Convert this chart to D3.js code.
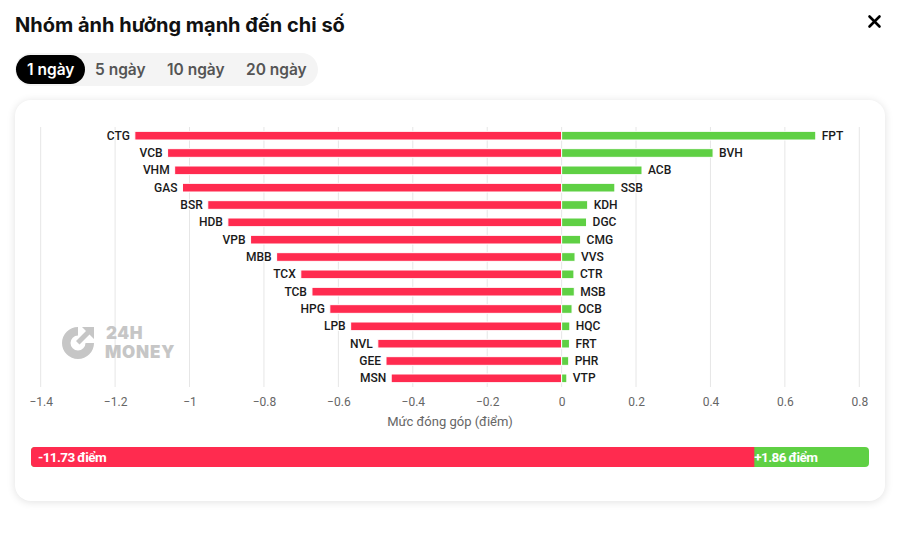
<!DOCTYPE html>
<html>
<head>
<meta charset="utf-8">
<script src="https://cdn.jsdelivr.net/npm/d3@7"></script>
<style>
  body { margin: 0; background: #fff; font-family: Inter, Roboto, sans-serif; }
  #page { position: relative; width: 898px; height: 546px; overflow: hidden; }
  .title { position: absolute; left: 15px; top: 13px; font-size: 20px; font-weight: 700; color: #111; }
  .tabs { position: absolute; left: 15px; top: 53px; height: 33px; width: 303px; background: #f4f4f4; border-radius: 17px; }
  .tab { position: absolute; top: 2px; height: 29px; line-height: 29px; font-size: 15.5px; font-weight: 600; color: #555; }
  .tab.active { background: #000; color: #fff; border-radius: 15px; padding: 0 11px; left: 1px; }
  .card { position: absolute; left: 15px; top: 100px; width: 870px; height: 401px; background: #fff; border-radius: 16px;
          box-shadow: 0 1px 8px rgba(0,0,0,0.12); }
  svg { position: absolute; left: 0; top: 0; }
</style>
</head>
<body>
<div id="page">
  <div class="title">Nhóm ảnh hưởng mạnh đến chi số</div>
  <div class="tabs">
    <div class="tab active">1 ngày</div>
    <div class="tab" style="left:80px">5 ngày</div>
    <div class="tab" style="left:152px">10 ngày</div>
    <div class="tab" style="left:231px">20 ngày</div>
  </div>
  <div class="card"></div>
  <div id="chart"></div>
</div>
<script>
// Data
const negNames = ["CTG", "VCB", "VHM", "GAS", "BSR", "HDB", "VPB", "MBB", "TCX", "TCB", "HPG", "LPB", "NVL", "GEE", "MSN"];
const negValues = [-1.147, -1.059, -1.040, -1.019, -0.951, -0.897, -0.836, -0.766, -0.701, -0.671, -0.623, -0.567, -0.494, -0.472, -0.458];
const posNames = ["FPT", "BVH", "ACB", "SSB", "KDH", "DGC", "CMG", "VVS", "CTR", "MSB", "OCB", "HQC", "FRT", "PHR", "VTP"];
const posValues = [0.683, 0.407, 0.216, 0.143, 0.070, 0.067, 0.051, 0.036, 0.033, 0.034, 0.028, 0.022, 0.021, 0.019, 0.014];
const xTicks = [-1.4, -1.2, -1, -0.8, -0.6, -0.4, -0.2, 0, 0.2, 0.4, 0.6, 0.8];
const totalNeg = -11.73;
const totalPos = 1.86;

const red = "#ff2b4f";
const green = "#5fd044";

const W = 898, H = 546;
const plot = { left: 40.7, right: 859.3, top: 127, bottom: 387 };

const svg = d3.select("#chart").append("svg")
    .attr("width", W)
    .attr("height", H);

// Scales
const x = d3.scaleLinear().domain([-1.4, 0.8]).range([plot.left, plot.right]);
const y = d3.scaleBand().domain(d3.range(negNames.length)).range([plot.top, plot.bottom]).paddingInner(0.5).paddingOuter(0.25);

// Gridlines
svg.append("g")
  .selectAll("line")
  .data(xTicks)
  .join("line")
    .attr("x1", d => x(d)).attr("x2", d => x(d))
    .attr("y1", plot.top).attr("y2", plot.bottom)
    .attr("stroke", "#e6e6e6")
    .attr("stroke-width", 1);

// Watermark
const wm = svg.append("g").attr("fill", "#c6c6c6");
wm.append("path")
  .attr("d", "M78,327 A16,16 0 1 0 94,343 L85.5,343 A7.5,7.5 0 1 1 78,335.5 Z")
  .attr("fill-rule", "evenodd");
wm.append("path").attr("d", "M82,327 L94,327 L94,339 L89.5,334.5 L79.5,344.5 L76,341 L86,331 Z");
wm.append("text").attr("x", 106).attr("y", 339).attr("font-size", 17).attr("font-weight", 900)
  .attr("letter-spacing", 0.5)
  .attr("font-family", "Inter, sans-serif").text("24H");
wm.append("text").attr("x", 105).attr("y", 358).attr("font-size", 17).attr("font-weight", 900)
  .attr("letter-spacing", 0.8)
  .attr("font-family", "Inter, sans-serif").text("MONEY");

// Negative bars
svg.append("g")
  .selectAll("rect")
  .data(negValues)
  .join("rect")
    .attr("x", d => x(d))
    .attr("y", (d, i) => y(i))
    .attr("width", d => x(0) - x(d))
    .attr("height", y.bandwidth())
    .attr("fill", red)
    .attr("stroke", "#fff")
    .attr("stroke-width", 1);

// Positive bars
svg.append("g")
  .selectAll("rect")
  .data(posValues)
  .join("rect")
    .attr("x", x(0))
    .attr("y", (d, i) => y(i))
    .attr("width", d => x(d) - x(0))
    .attr("height", y.bandwidth())
    .attr("fill", green)
    .attr("stroke", "#fff")
    .attr("stroke-width", 1);

// Bar labels
const labelStyle = sel => sel
    .attr("font-family", "Roboto, sans-serif")
    .attr("font-size", 12)
    .attr("font-weight", 500)
    .attr("fill", "#1a1a1a")
    .attr("dominant-baseline", "central")
    .attr("stroke", "#fff")
    .attr("stroke-width", 2)
    .attr("paint-order", "stroke");

svg.append("g")
  .selectAll("text")
  .data(negValues)
  .join("text")
    .attr("x", d => x(d) - 5)
    .attr("y", (d, i) => y(i) + y.bandwidth() / 2)
    .attr("text-anchor", "end")
    .call(labelStyle)
    .text((d, i) => negNames[i]);

svg.append("g")
  .selectAll("text")
  .data(posValues)
  .join("text")
    .attr("x", d => x(d) + 6)
    .attr("y", (d, i) => y(i) + y.bandwidth() / 2)
    .attr("text-anchor", "start")
    .call(labelStyle)
    .text((d, i) => posNames[i]);

// X axis
const xAxis = svg.append("g")
    .attr("transform", `translate(0,${plot.bottom})`)
    .call(d3.axisBottom(x).tickValues(xTicks).tickSize(0).tickPadding(10).tickFormat(d3.format("")));
xAxis.select(".domain").remove();
xAxis.selectAll("text")
    .attr("font-family", "Roboto, sans-serif")
    .attr("font-size", 12)
    .attr("fill", "#666");

svg.append("text")
    .attr("x", (plot.left + plot.right) / 2)
    .attr("y", 426)
    .attr("text-anchor", "middle")
    .attr("font-family", "Roboto, sans-serif")
    .attr("font-size", 13)
    .attr("fill", "#666")
    .text("Mức đóng góp (điểm)");

// Totals bar
const total = Math.abs(totalNeg) + totalPos;
const t = d3.scaleLinear().domain([0, total]).range([31, 869]);
const split = t(Math.abs(totalNeg));
svg.append("rect")
    .attr("x", t(0)).attr("y", 447)
    .attr("width", t(total) - t(0)).attr("height", 20)
    .attr("rx", 4)
    .attr("fill", green);
svg.append("path")
    .attr("d", `M${split},447 H${t(0) + 4} A4,4 0 0 0 ${t(0)},451 V463 A4,4 0 0 0 ${t(0) + 4},467 H${split} Z`)
    .attr("fill", red);
svg.append("text")
    .attr("x", t(0) + 7).attr("y", 457)
    .attr("dominant-baseline", "central")
    .attr("font-family", "Roboto, sans-serif")
    .attr("font-size", 13.5).attr("font-weight", 700)
    .attr("letter-spacing", -0.6)
    .attr("fill", "#fff")
    .text(`${totalNeg.toFixed(2)} điểm`);
svg.append("text")
    .attr("x", split).attr("y", 457)
    .attr("dominant-baseline", "central")
    .attr("font-family", "Roboto, sans-serif")
    .attr("font-size", 13.5).attr("font-weight", 700)
    .attr("letter-spacing", -0.6)
    .attr("fill", "#fff")
    .text(`+${totalPos.toFixed(2)} điểm`);

// Close button
svg.append("g")
    .attr("stroke", "#000").attr("stroke-width", 2.6).attr("stroke-linecap", "round")
  .selectAll("line")
  .data([[869.5, 16.5, 879.5, 26.5], [879.5, 16.5, 869.5, 26.5]])
  .join("line")
    .attr("x1", d => d[0]).attr("y1", d => d[1])
    .attr("x2", d => d[2]).attr("y2", d => d[3]);
</script>
</body>
</html>
